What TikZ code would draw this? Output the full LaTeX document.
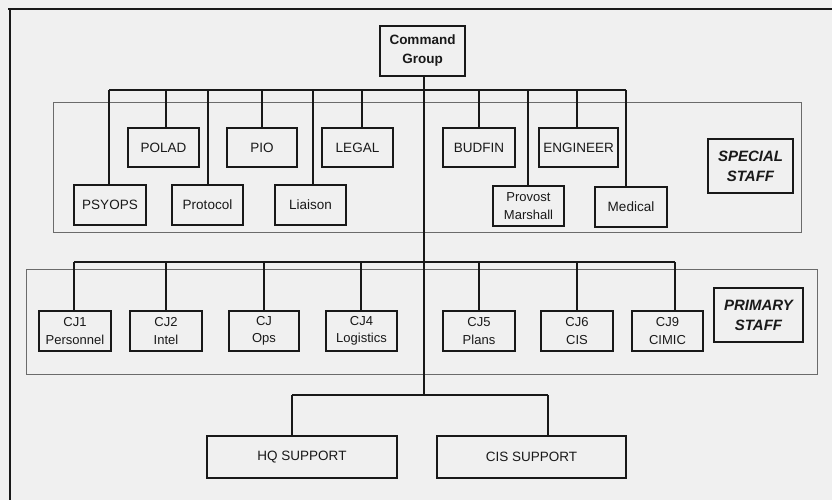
\documentclass[tikz,border=0pt]{standalone}
\usepackage{fontspec}
\setmainfont{Liberation Sans}
\usetikzlibrary{calc}
\definecolor{bgc}{gray}{0.94}
\definecolor{ink}{gray}{0.1}
\definecolor{framec}{gray}{0.42}
\tikzset{
  box/.style={draw=ink, line width=1.5pt, inner sep=0pt, align=center, font=\fontsize{13.5}{16}\selectfont, text=ink},
  twoline/.style={box, font=\fontsize{13}{17.5}\selectfont},
  titlebox/.style={box, font=\fontsize{15}{20}\selectfont\bfseries\itshape},
  bus/.style={draw=ink, line width=1.8pt},
  staffframe/.style={draw=framec, line width=0.9pt},
  edge/.style={draw=ink, line width=1.6pt}
}
\begin{document}
\begin{tikzpicture}[x=1pt,y=-1pt]
\useasboundingbox (0,0) rectangle (832,500);
\fill[bgc] (0,0) rectangle (832,500);
% outer scan border
\draw[ink, line width=1.5pt] (8,9) -- (832,9);
\draw[ink, line width=1.5pt] (10,9) -- (10,500);

% frames
\draw[staffframe] (53,102) rectangle (801,232);
\draw[staffframe] (26,269) rectangle (817,374);

% command group
\node[box, font=\fontsize{13.5}{19}\selectfont\bfseries, minimum width=85pt, minimum height=50pt] (cmd) at (422.5,51) {Command\\Group};

% special staff
\node[box, minimum width=71pt, minimum height=39pt] (polad) at (163.5,147.5) {POLAD};
\node[box, minimum width=70pt, minimum height=39pt] (pio) at (262,147.5) {PIO};
\node[box, minimum width=71pt, minimum height=39pt] (legal) at (357.5,147.5) {LEGAL};
\node[box, minimum width=72pt, minimum height=39pt] (budfin) at (479,147.5) {BUDFIN};
\node[box, minimum width=79pt, minimum height=39pt] (engineer) at (578.5,147.5) {ENGINEER};
\node[box, minimum width=72pt, minimum height=40pt] (psyops) at (110,205) {PSYOPS};
\node[box, minimum width=71pt, minimum height=40pt] (protocol) at (207.5,205) {Protocol};
\node[box, minimum width=71pt, minimum height=40pt] (liaison) at (310.5,205) {Liaison};
\node[twoline, minimum width=71pt, minimum height=40pt] (provost) at (528.5,206) {Provost\\Marshall};
\node[box, minimum width=72pt, minimum height=40pt] (medical) at (631,207) {Medical};
\node[titlebox, minimum width=85pt, minimum height=54pt] (special) at (750.5,166) {SPECIAL\\STAFF};

% primary staff
\node[twoline, minimum width=72pt, minimum height=40pt] (cj1) at (75,331) {CJ1\\Personnel};
\node[twoline, minimum width=72pt, minimum height=40pt] (cj2) at (166,331) {CJ2\\Intel};
\node[twoline, minimum width=70pt, minimum height=40pt] (cj3) at (264,331) {CJ\\Ops};
\node[twoline, minimum width=71pt, minimum height=40pt] (cj4) at (361.5,331) {CJ4\\Logistics};
\node[twoline, minimum width=72pt, minimum height=40pt] (cj5) at (479,331) {CJ5\\Plans};
\node[twoline, minimum width=72pt, minimum height=40pt] (cj6) at (577,331) {CJ6\\CIS};
\node[twoline, minimum width=71pt, minimum height=40pt] (cj9) at (667.5,331) {CJ9\\CIMIC};
\node[titlebox, minimum width=89pt, minimum height=54pt] (primary) at (758.5,315) {PRIMARY\\STAFF};

% support
\node[box, minimum width=190pt, minimum height=42pt] (hq) at (302,457) {HQ SUPPORT};
\node[box, minimum width=189pt, minimum height=42pt] (cis) at (531.5,457) {CIS SUPPORT};

% bus coordinates
\coordinate (b1) at (424,90);
\coordinate (b2) at (424,262);
\coordinate (b3) at (424,395);
\coordinate (trunk) at ($(cmd.south)+(1.5,0)$);

% trunk
\draw[bus] (trunk) -- (b3);

% special staff stem points
\coordinate (s-psy) at ($(psyops.north)+(-1,0)$);
\coordinate (s-pol) at ($(polad.north)+(2.5,0)$);
\coordinate (s-pro) at ($(protocol.north)+(0.5,0)$);
\coordinate (s-lia) at ($(liaison.north)+(2.5,0)$);
\coordinate (s-leg) at ($(legal.north)+(4.5,0)$);
\coordinate (s-prv) at ($(provost.north)+(-0.5,0)$);
\coordinate (s-eng) at ($(engineer.north)+(-1.5,0)$);
\coordinate (s-med) at ($(medical.north)+(-5,0)$);
\draw[bus] (b1 -| s-psy) -- (b1 -| s-med);
\draw[edge] (b1 -| s-psy) -- (s-psy);
\draw[edge] (b1 -| s-pol) -- (s-pol);
\draw[edge] (b1 -| s-pro) -- (s-pro);
\draw[edge] (b1 -| pio.north) -- (pio.north);
\draw[edge] (b1 -| s-lia) -- (s-lia);
\draw[edge] (b1 -| s-leg) -- (s-leg);
\draw[edge] (b1 -| budfin.north) -- (budfin.north);
\draw[edge] (b1 -| s-prv) -- (s-prv);
\draw[edge] (b1 -| s-eng) -- (s-eng);
\draw[edge] (b1 -| s-med) -- (s-med);

% primary staff bus
\coordinate (s-cj1) at ($(cj1.north)+(-1,0)$);
\coordinate (s-cj4) at ($(cj4.north)+(-0.5,0)$);
\coordinate (s-cj9) at ($(cj9.north)+(7.5,0)$);
\draw[bus] (b2 -| s-cj1) -- (b2 -| s-cj9);
\draw[edge] (b2 -| s-cj1) -- (s-cj1);
\draw[edge] (b2 -| cj2.north) -- (cj2.north);
\draw[edge] (b2 -| cj3.north) -- (cj3.north);
\draw[edge] (b2 -| s-cj4) -- (s-cj4);
\draw[edge] (b2 -| cj5.north) -- (cj5.north);
\draw[edge] (b2 -| cj6.north) -- (cj6.north);
\draw[edge] (b2 -| s-cj9) -- (s-cj9);

% support bus
\coordinate (s-hq) at ($(hq.north)+(-10,0)$);
\coordinate (s-cis) at ($(cis.north)+(16.5,0)$);
\draw[bus] (b3 -| s-hq) -- (b3 -| s-cis);
\draw[edge] (b3 -| s-hq) -- (s-hq);
\draw[edge] (b3 -| s-cis) -- (s-cis);
\end{tikzpicture}
\end{document}
